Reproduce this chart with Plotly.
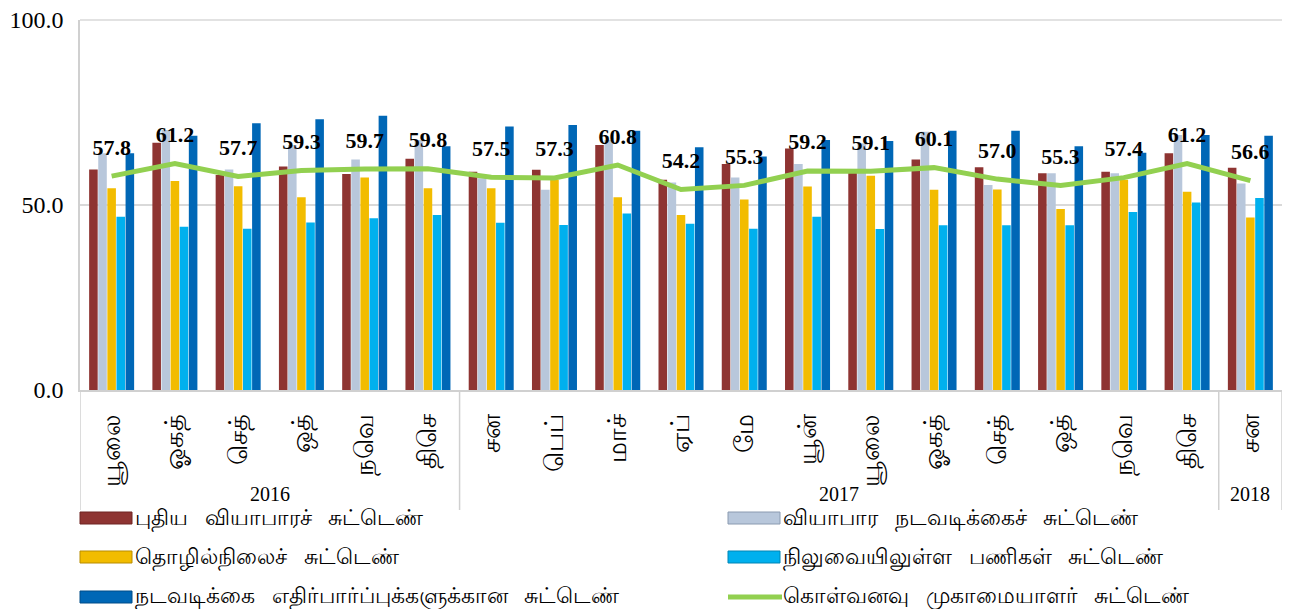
import plotly.graph_objects as go

years = ["2016"] * 6 + ["2017"] * 12 + ["2018"]
months = ["யூலை", "ஓகத்", "செத்", "ஒத்", "நவெ", "திசெ",
          "சன", "பெப்", "மாச்", "ஏப்", "மே", "யூன்", "யூலை", "ஓகத்", "செத்", "ஒத்", "நவெ", "திசெ",
          "சன"]

new_business = [59.6, 66.8, 58.1, 60.4, 58.4, 62.5, 59.0, 59.5, 66.2, 56.8, 61.1, 65.3, 59.5, 62.3, 60.2, 58.6, 59.0, 64.0, 60.1]
business_activity = [64.0, 70.3, 59.6, 66.2, 62.3, 67.6, 57.2, 54.1, 67.6, 56.1, 57.4, 61.1, 66.7, 69.8, 55.4, 58.6, 58.6, 68.9, 55.8]
employment = [54.5, 56.5, 55.1, 52.1, 57.4, 54.5, 54.5, 56.8, 52.1, 47.3, 51.5, 55.0, 57.9, 54.1, 54.2, 48.9, 56.8, 53.6, 46.6]
backlogs = [46.8, 44.1, 43.6, 45.3, 46.4, 47.3, 45.2, 44.6, 47.7, 44.9, 43.6, 46.8, 43.5, 44.5, 44.5, 44.5, 48.1, 50.7, 51.9]
expectations = [64.0, 68.7, 72.1, 73.2, 74.1, 65.9, 71.2, 71.6, 70.1, 65.6, 63.1, 67.6, 67.3, 70.1, 70.1, 65.9, 64.1, 68.9, 68.7]
pmi = [57.8, 61.2, 57.7, 59.3, 59.7, 59.8, 57.5, 57.3, 60.8, 54.2, 55.3, 59.2, 59.1, 60.1, 57.0, 55.3, 57.4, 61.2, 56.6]

series_names = [
    "புதிய வியாபாரச் சுட்டெண்",
    "வியாபார நடவடிக்கைச் சுட்டெண்",
    "தொழில்நிலைச் சுட்டெண்",
    "நிலுவையிலுள்ள பணிகள் சுட்டெண்",
    "நடவடிக்கை எதிர்பார்ப்புக்களுக்கான சுட்டெண்",
]
line_name = "கொள்வனவு முகாமையாளர் சுட்டெண்"
y_ticks = [0, 50, 100]
bar_colors = ["#8E3432", "#B8C7DB", "#F2BC00", "#00B0EE", "#0067B6"]
bar_edges = ["#6E2422", "#8A9AB0", "#B88C00", "#0085B5", "#004C88"]
line_color = "#92D050"

x = list(range(len(months)))
serif = "Liberation Serif, Times New Roman, serif"

# the page body adds an 8px offset; target positions below are in screenshot pixels
OFF = 8
SCR_W, SCR_H = 1304, 609
PLOT_L, PLOT_R, PLOT_T, PLOT_B = 80, 1282, 20, 390
W, H = SCR_W - OFF, SCR_H - OFF
ML, MT = PLOT_L - OFF, PLOT_T - OFF
MR, MB = W - (PLOT_R - OFF), H - (PLOT_B - OFF)
PW, PH = W - ML - MR, H - MT - MB


def px_x(p):
    return (p - PLOT_L) / PW


def px_y(p):
    return (PLOT_B - p) / PH


fig = go.Figure()
for name, vals, col in zip(series_names,
                           [new_business, business_activity, employment, backlogs, expectations],
                           bar_colors):
    fig.add_trace(go.Bar(x=x, y=vals, name=name, showlegend=False,
                         marker=dict(color=col, line=dict(width=0))))

fig.add_trace(go.Scatter(
    x=x, y=pmi, name=line_name, mode="lines+markers+text", showlegend=False,
    line=dict(color=line_color, width=5),
    marker=dict(size=24, color="rgba(0,0,0,0)"),
    text=[f"{v:.1f}" for v in pmi], textposition="top center",
    textfont=dict(family=serif, size=22, color="black", weight="bold"),
))

# year group labels and dividers
groups = []
for i, yv in enumerate(years):
    if not groups or groups[-1][0] != yv:
        groups.append([yv, i, i])
    else:
        groups[-1][2] = i
for yv, a, b in groups:
    fig.add_annotation(x=(a + b) / 2, y=px_y(494), xref="x", yref="paper", text=yv,
                       showarrow=False, font=dict(family=serif, size=20, color="black"),
                       yanchor="middle", borderpad=0)
edges = sorted({a - 0.5 for _, a, _ in groups} | {b + 0.5 for _, _, b in groups})
for edge in edges:
    fig.add_shape(type="line", x0=edge, x1=edge, y0=0, y1=px_y(510), xref="x", yref="paper",
                  line=dict(color="#D0D0D0", width=1.5))

# legend (2 columns x 3 rows), drawn manually to match the reference layout
col_x = [80, 728]
row_y = [518, 557, 597]
entries = list(zip(series_names, bar_colors, bar_edges)) + [(line_name, line_color, None)]
for k, (name, col, edge) in enumerate(entries):
    cx = col_x[k % 2]
    cy = row_y[k // 2]
    if edge is None:
        fig.add_shape(type="line", xref="paper", yref="paper",
                      x0=px_x(cx), x1=px_x(cx + 54), y0=px_y(cy), y1=px_y(cy),
                      line=dict(color=col, width=5))
    else:
        fig.add_shape(type="rect", xref="paper", yref="paper",
                      x0=px_x(cx), x1=px_x(cx + 52), y0=px_y(cy - 6), y1=px_y(cy + 6),
                      fillcolor=col, line=dict(color=edge, width=1))
    fig.add_annotation(xref="paper", yref="paper", x=px_x(cx + 54), y=px_y(cy),
                       xanchor="left", yanchor="middle", showarrow=False, borderpad=0,
                       text=name.replace(" ", "\u00a0\u00a0\u00a0"),
                       font=dict(family=serif, size=22, color="black"))

fig.update_layout(
    width=W, height=H,
    margin=dict(l=ML, r=MR, t=MT, b=MB, autoexpand=False),
    plot_bgcolor="white", paper_bgcolor="white",
    barmode="group", bargap=0.28, bargroupgap=0.06,
    font=dict(family=serif, size=19, color="black"),
    showlegend=False,
)
fig.update_xaxes(range=[-0.5, len(months) - 0.5], tickmode="array", tickvals=x, ticktext=months,
                 tickangle=-90, showgrid=False, showline=True, linecolor="#D0D0D0", linewidth=1.5,
                 ticks="", ticklabelstandoff=12, tickfont=dict(family=serif, size=26),
                 ticklabeloverflow="allow")
fig.update_yaxes(range=[y_ticks[0], y_ticks[-1]], tickmode="array", tickvals=y_ticks,
                 ticktext=[f"{v:.1f}" for v in y_ticks], showgrid=True, gridcolor="#D9D9D9",
                 gridwidth=1.5, showline=True, mirror=False, linecolor="#D0D0D0", linewidth=1.5,
                 zeroline=False, ticks="", ticklabelstandoff=10, tickfont=dict(family=serif, size=24),
                 ticklabeloverflow="allow")
# top gridline (plotly skips the gridline at the end of the range)
fig.add_shape(type="line", xref="paper", yref="paper", x0=0, x1=1, y0=1, y1=1,
              line=dict(color="#D9D9D9", width=1.5), layer="below")

fig.write_html("out.html")
